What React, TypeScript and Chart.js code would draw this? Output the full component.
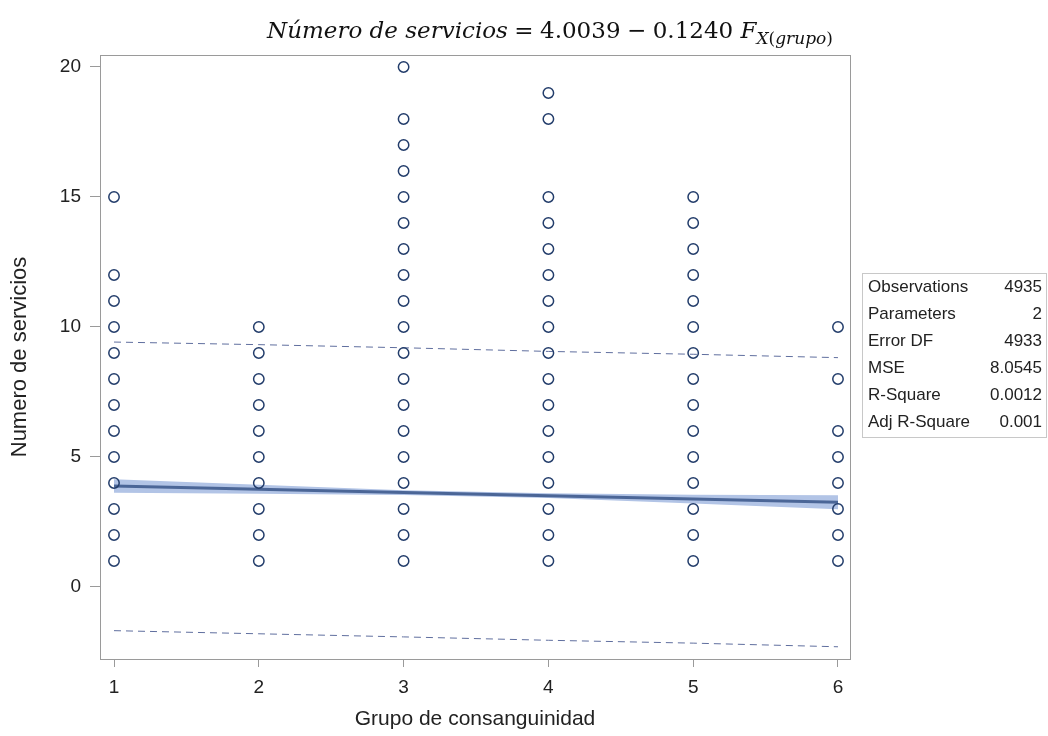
import React, { useEffect, useRef } from "react";
import { Chart, registerables } from "chart.js";

Chart.register(...registerables);

// Observed values of "Numero de servicios" for each consanguinity group
const groups = [1, 2, 3, 4, 5, 6];
const group1Values = [15, 12, 11, 10, 9, 8, 7, 6, 5, 4, 3, 2, 1];
const group2Values = [10, 9, 8, 7, 6, 5, 4, 3, 2, 1];
const group3Values = [20, 18, 17, 16, 15, 14, 13, 12, 11, 10, 9, 8, 7, 6, 5, 4, 3, 2, 1];
const group4Values = [19, 18, 15, 14, 13, 12, 11, 10, 9, 8, 7, 6, 5, 4, 3, 2, 1];
const group5Values = [15, 14, 13, 12, 11, 10, 9, 8, 7, 6, 5, 4, 3, 2, 1];
const group6Values = [10, 8, 6, 5, 4, 3, 2, 1];

// Fitted model: Número de servicios = 4.0039 − 0.1240 F
const intercept = 4.0039;
const slope = -0.124;

// 95% confidence band of the mean
const confUpper = [4.14, 3.93, 3.72, 3.6, 3.55, 3.53];
const confLower = [3.62, 3.59, 3.54, 3.42, 3.21, 2.99];

// 95% prediction limits
const predUpper = [9.42, 9.32, 9.2, 9.06, 8.95, 8.82];
const predLower = [-1.68, -1.8, -1.92, -2.05, -2.16, -2.3];

const xTicks = [1, 2, 3, 4, 5, 6];
const yTicks = [0, 5, 10, 15, 20];

const statLabels = ["Observations", "Parameters", "Error DF", "MSE", "R-Square", "Adj R-Square"];
const statValues = ["4935", "2", "4933", "8.0545", "0.0012", "0.001"];

const FONT = "'Liberation Sans', Arial, sans-serif";

const frameAndStats = {
  id: "frameAndStats",
  afterDraw(chart: any) {
    const { ctx, chartArea } = chart;
    ctx.save();
    ctx.strokeStyle = "#9a9a9a";
    ctx.lineWidth = 1;
    ctx.strokeRect(
      Math.round(chartArea.left) + 0.5,
      Math.round(chartArea.top) + 0.5,
      Math.round(chartArea.right - chartArea.left),
      Math.round(chartArea.bottom - chartArea.top)
    );

    // fit statistics box
    const bx = Math.round(chartArea.right) + 12;
    const by = 273;
    const bw = 184;
    const rowH = 27;
    const bh = rowH * statLabels.length + 2;
    ctx.strokeStyle = "#c8c8c8";
    ctx.strokeRect(bx + 0.5, by + 0.5, bw, bh);
    ctx.fillStyle = "#222";
    ctx.font = `17px ${FONT}`;
    ctx.textBaseline = "middle";
    statLabels.forEach((lab, i) => {
      const y = by + 14 + i * rowH;
      ctx.textAlign = "left";
      ctx.fillText(lab, bx + 6, y);
      ctx.textAlign = "right";
      ctx.fillText(statValues[i], bx + bw - 4, y);
    });
    ctx.restore();
  },
};

const op: React.CSSProperties = { margin: "0 0.28em" };

export default function App() {
  const canvasRef = useRef<HTMLCanvasElement | null>(null);

  useEffect(() => {
    const canvas = canvasRef.current;
    if (!canvas) return;

    const groupValues = [group1Values, group2Values, group3Values, group4Values, group5Values, group6Values];
    const points = groupValues.flatMap((vals, gi) => vals.map((v) => ({ x: groups[gi], y: v })));
    const fit = groups.map((g) => ({ x: g, y: intercept + slope * g }));
    const toXY = (arr: number[]) => arr.map((v, i) => ({ x: groups[i], y: v }));

    const chart = new Chart(canvas, {
      type: "line",
      data: {
        datasets: [
          {
            label: "obs",
            data: points,
            showLine: false,
            pointStyle: "circle",
            pointRadius: 5.2,
            pointBorderWidth: 1.5,
            pointBorderColor: "#233d6b",
            pointBackgroundColor: "rgba(0,0,0,0)",
            order: 0,
          },
          {
            label: "fit",
            data: fit,
            borderColor: "#4b6697",
            borderWidth: 3,
            pointRadius: 0,
            order: 1,
          },
          {
            label: "pred upper",
            data: toXY(predUpper),
            borderColor: "#5f6e9e",
            borderWidth: 1,
            borderDash: [7, 5],
            pointRadius: 0,
            order: 2,
          },
          {
            label: "pred lower",
            data: toXY(predLower),
            borderColor: "#5f6e9e",
            borderWidth: 1,
            borderDash: [7, 5],
            pointRadius: 0,
            order: 2,
          },
          {
            label: "conf lower",
            data: toXY(confLower),
            borderWidth: 0,
            borderColor: "rgba(0,0,0,0)",
            pointRadius: 0,
            fill: false,
            order: 3,
          },
          {
            label: "conf upper",
            data: toXY(confUpper),
            borderWidth: 0,
            borderColor: "rgba(0,0,0,0)",
            backgroundColor: "#b2c4e6",
            pointRadius: 0,
            fill: "-1",
            order: 3,
          },
        ],
      },
      options: {
        animation: false,
        responsive: false,
        devicePixelRatio: 1,
        layout: { padding: { left: 0, right: 198, top: 55, bottom: 0 } },
        plugins: {
          legend: { display: false },
          tooltip: { enabled: false },
          title: { display: false },
        },
        scales: {
          x: {
            type: "linear",
            min: 0.9033,
            max: 6.083,
            afterBuildTicks: (scale: any) => {
              scale.ticks = xTicks.map((v) => ({ value: v }));
            },
            afterFit: (scale: any) => {
              scale.height = 77;
            },
            grid: { display: true, drawOnChartArea: false, drawTicks: true, tickLength: 8, color: "#9a9a9a" },
            border: { display: true, color: "#9a9a9a" },
            ticks: {
              color: "#222",
              font: { family: FONT, size: 19 },
              padding: 9,
              maxRotation: 0,
              callback: (v: any) => String(v),
            },
            title: {
              display: true,
              text: "Grupo de consanguinidad",
              color: "#222",
              font: { family: FONT, size: 21 },
              padding: { top: 0, bottom: 4 },
            },
          },
          y: {
            type: "linear",
            min: -2.77,
            max: 20.46,
            afterBuildTicks: (scale: any) => {
              scale.ticks = yTicks.map((v) => ({ value: v }));
            },
            afterFit: (scale: any) => {
              scale.width = 100;
            },
            grid: { display: true, drawOnChartArea: false, drawTicks: true, tickLength: 10, color: "#9a9a9a" },
            border: { display: true, color: "#9a9a9a" },
            ticks: {
              color: "#222",
              font: { family: FONT, size: 19 },
              padding: 9,
              callback: (v: any) => String(v),
            },
            title: {
              display: true,
              text: "Numero de servicios",
              color: "#222",
              font: { family: FONT, size: 22 },
              padding: { top: 7, bottom: 0 },
            },
          },
        },
      },
      plugins: [frameAndStats],
    } as any);

    return () => chart.destroy();
  }, []);

  return (
    <div
      style={{
        position: "fixed",
        left: 0,
        top: 0,
        width: 1048,
        height: 736,
        background: "#fff",
      }}
    >
      <div
        style={{
          position: "absolute",
          left: 0,
          width: 1100,
          top: 15,
          textAlign: "center",
          fontFamily: "'DejaVu Serif', 'Liberation Serif', serif",
          fontSize: 23,
          color: "#111",
          whiteSpace: "nowrap",
          lineHeight: "30px",
        }}
      >
        <i>Número de servicios</i>
        <span style={op}>=</span>4.0039<span style={op}>−</span>0.1240 <i>F</i>
        <sub style={{ fontSize: 17 }}>
          <i>X</i>(<i>grupo</i>)
        </sub>
      </div>
      <canvas ref={canvasRef} width={1048} height={736} style={{ display: "block" }} />
    </div>
  );
}
